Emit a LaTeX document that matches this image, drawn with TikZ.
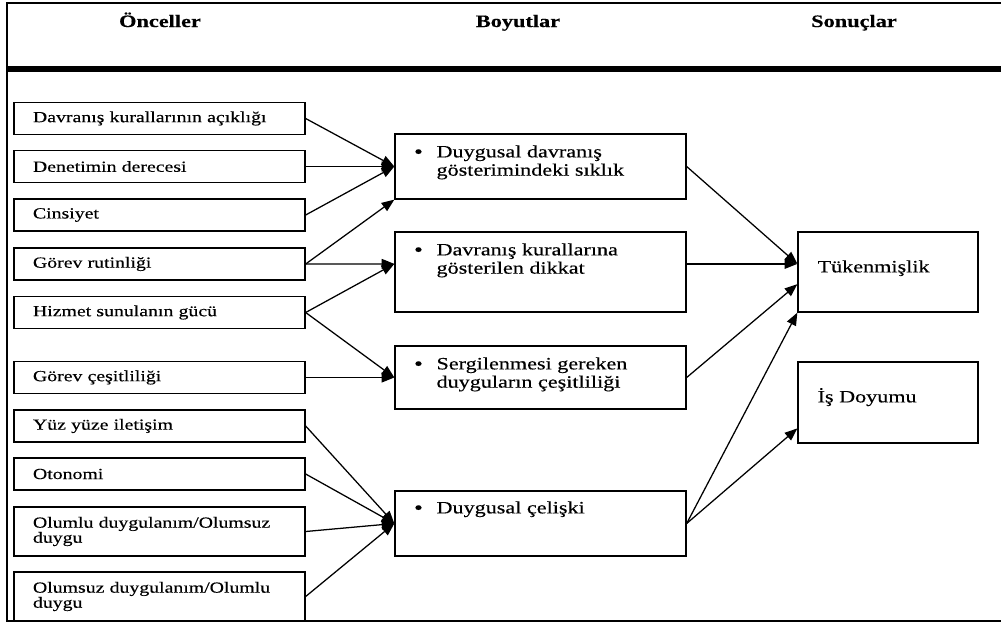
\documentclass[tikz,border=0pt]{standalone}
\usepackage{fontspec}
\setmainfont{Liberation Serif}[FakeStretch=1.28,FakeBold=0.35]
\usepackage{tikz}
\usetikzlibrary{arrows.meta,positioning,calc}

\begin{document}
\begin{tikzpicture}
    [x=0.025cm,y=-0.025cm,
     lbox/.style={draw,line width=0.9pt,minimum width=7.275cm,text width=6.325cm,inner xsep=0.475cm,align=left,font=\fontsize{11}{10.7}\selectfont},
     mbox/.style={draw,line width=0.9pt,minimum width=7.275cm},
     rbox/.style={draw,line width=0.9pt,minimum width=4.5cm},
     txt/.style={anchor=base west,inner sep=0pt,font=\fontsize{12.3}{13}\selectfont},
     head/.style={anchor=base,inner sep=0pt,font=\bfseries\fontsize{12.4}{14}\selectfont},
     arr/.style={line width=0.9pt,-{Triangle[length=9pt,width=7pt]}}]
    \useasboundingbox (0,0) rectangle (1001,626);
    \draw [line width=1.4pt] (1001,3) -- (7,3) -- (7,621) -- (1001,621);
    \fill (7,66) rectangle (1001,72);

    \node[head] (h1) at (160,27) {Önceller};
    \node[head] (h2) at (518,27) {Boyutlar};
    \node[head] (h3) at (854,27) {Sonuçlar};

    \node[lbox,minimum height=0.8cm] (l1) at (159.5,118.5) {Davranış kurallarının açıklığı};
    \node[lbox,minimum height=0.8cm] (l2) at (159.5,166.5) {Denetimin derecesi};
    \node[lbox,minimum height=0.8cm] (l3) at (159.5,215)   {Cinsiyet};
    \node[lbox,minimum height=0.8cm] (l4) at (159.5,264)   {Görev rutinliği};
    \node[lbox,minimum height=0.8cm] (l5) at (159.5,312.5) {Hizmet sunulanın gücü};
    \node[lbox,minimum height=0.8cm] (l6) at (159.5,377.5) {Görev çeşitliliği};
    \node[lbox,minimum height=0.8cm] (l7) at (159.5,426)   {Yüz yüze iletişim};
    \node[lbox,minimum height=0.8cm] (l8) at (159.5,474)   {Otonomi};
    \node[lbox,minimum height=1.225cm] (l9) at (159.5,531.5) {Olumlu duygulanım/Olumsuz\\duygu};
    \node[lbox,minimum height=1.225cm] (l10) at (159.5,596.5) {Olumsuz duygulanım/Olumlu\\duygu};

    \node[mbox,minimum height=1.625cm] (m1) at (540.5,166.5) {};
    \node[mbox,minimum height=2cm]     (m2) at (540.5,272)   {};
    \node[mbox,minimum height=1.575cm] (m3) at (540.5,377.5) {};
    \node[mbox,minimum height=1.625cm] (m4) at (540.5,523.5) {};
    \node[txt] (m1t) at ($(m1.north west)+(20,24)$) {\makebox[15.6pt][l]{\textbf{\textbullet}}\begin{tabular}[t]{@{}l@{}}Duygusal davranış\\gösterimindeki sıklık\end{tabular}};
    \node[txt] (m2t) at ($(m2.north west)+(20,24)$) {\makebox[15.6pt][l]{\textbf{\textbullet}}\begin{tabular}[t]{@{}l@{}}Davranış kurallarına\\gösterilen dikkat\end{tabular}};
    \node[txt] (m3t) at ($(m3.north west)+(20,24)$) {\makebox[15.6pt][l]{\textbf{\textbullet}}\begin{tabular}[t]{@{}l@{}}Sergilenmesi gereken\\duyguların çeşitliliği\end{tabular}};
    \node[txt] (m4t) at ($(m4.north west)+(20,23)$) {\makebox[15.6pt][l]{\textbf{\textbullet}}Duygusal çelişki};

    \node[rbox,minimum height=2cm]     (r1) at (888,272)   {};
    \node[rbox,minimum height=2.025cm] (r2) at (888,402.5) {};
    \node[txt] (r1t) at ($(r1.north west)+(20,41)$) {Tükenmişlik};
    \node[txt] (r2t) at ($(r2.north west)+(20,41)$) {İş Doyumu};

    \coordinate (m2in)  at ($(m2.north west)!0.4!(m2.south west)$);
    \coordinate (m2out) at ($(m2.north east)!0.4!(m2.south east)$);
    \coordinate (r1a) at ($(r1.north west)!0.4!(r1.south west)$);
    \coordinate (r1b) at ($(r1.north west)!0.65!(r1.south west)$);
    \coordinate (r2a) at ($(r2.north west)!0.815!(r2.south west)$);

    \foreach \from/\to in {l1/m1.west,l2/m1.west,l3/m1.west,l4/m1.south west,l4/m2in,l5/m2in,
                           l5/m3.west,l6/m3.west,l7/m4.west,l8/m4.west,l9/m4.west,l10/m4.west}
      \draw [arr] (\from.east) -- (\to);
    \foreach \from/\to in {m1.east/r1a,m2out/r1a,m3.east/r1b,m4.east/r1.south west,m4.east/r2a}
      \draw [arr] (\from) -- (\to);
\end{tikzpicture}
\end{document}
